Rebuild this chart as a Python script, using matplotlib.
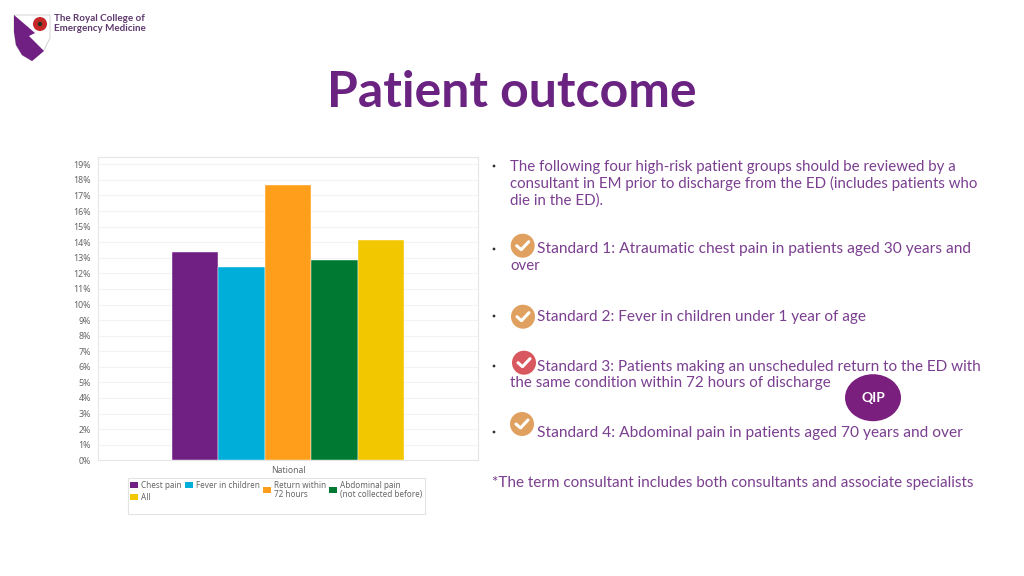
import matplotlib
matplotlib.use('Agg')
import matplotlib.pyplot as plt
from matplotlib.patches import Circle, Ellipse, Polygon, Rectangle

categories = ['Chest pain', 'Fever in children', 'Return within\n72 hours', 'Abdominal pain\n(not collected before)', 'All']
values = [13.39, 12.43, 17.67, 12.86, 14.14]
colors = ['#702082', '#00AEDA', '#FF9E1B', '#007A33', '#F2C700']
tick_values = list(range(0, 20))
tick_labels = ['%d%%' % t for t in tick_values]

title = 'Patient outcome'
purple = '#7B3F90'
body_font = 'Lato'

# text blocks: (x, y, size, text), sizes tuned per line as the original font is wider
body_lines = [
    (510, 166.5, 10.85, 'The following four high-risk patient groups should be reviewed by a'),
    (510, 183.5, 10.85, 'consultant in EM prior to discharge from the ED (includes patients who'),
    (510, 200.5, 10.85, 'die in the ED).'),
    (537, 249.5, 11.15, 'Standard 1: Atraumatic chest pain in patients aged 30 years and'),
    (510, 266.5, 10.85, 'over'),
    (537, 316.5, 11.1, 'Standard 2: Fever in children under 1 year of age'),
    (537, 366.5, 10.95, 'Standard 3: Patients making an unscheduled return to the ED with'),
    (510, 383.5, 10.9, 'the same condition within 72 hours of discharge'),
    (537, 432.5, 11.2, 'Standard 4: Abdominal pain in patients aged 70 years and over'),
    (492, 482.5, 10.95, '*The term consultant includes both consultants and associate specialists'),
]
bullets_y = [166, 249, 316, 366, 432]
checks = [(522.7, 245.7, '#E0A060'), (523, 316.7, '#E0A060'), (524, 362.7, '#D9575E'), (522, 424, '#E0A060')]

fig = plt.figure(figsize=(10.24, 5.76), dpi=100, facecolor='white')

# overlay in pixel coordinates for slide furniture
bg = fig.add_axes([0, 0, 1, 1])
bg.set_xlim(0, 1024)
bg.set_ylim(576, 0)
bg.axis('off')

# chart frame: 98..478 px across, 157..460 px down
ax = fig.add_axes([98 / 1024, 1 - 460.3 / 576, 380 / 1024, 303 / 576])
ax.set_xlim(-4.1, 4.1)
ax.set_ylim(0, 19.45)
for i, v in enumerate(values):
    ax.bar(i - 2, v, width=1.0, color=colors[i], zorder=3, edgecolor='white', linewidth=0.3)
ax.set_yticks(tick_values)
ax.set_yticklabels(tick_labels, fontsize=6.4, color='#666666', fontfamily='Noto Sans')
ax.set_xticks([0])
ax.set_xticklabels(['National'], fontsize=6.2, color='#666666', fontfamily='Noto Sans')
ax.tick_params(length=0)
ax.tick_params(axis='x', pad=4)
ax.tick_params(axis='y', pad=5)
ax.grid(axis='y', color='#F3F3F3', linewidth=0.8, zorder=0)
for s in ax.spines.values():
    s.set_color('#E6E6E6')
    s.set_linewidth(0.8)

# legend box
bg.add_patch(Rectangle((128, 478), 297, 36, fc='white', ec='#E3E3E3', lw=0.8))
legend_swatch = [(130, 482), (185, 482), (263, 487), (329, 487), (130, 494)]
legend_text = [(141, 485), (196, 485), (274, 490), (340, 490), (141, 497)]
for (x, y), (tx, ty), lab, c in zip(legend_swatch, legend_text, categories, colors):
    bg.add_patch(Rectangle((x, y), 8, 6, fc=c, ec='none'))
    bg.text(tx, ty, lab, fontsize=5.85, color='#666666', va='center', ha='left',
            family='Noto Sans', linespacing=1.05)

# logo
bg.add_patch(Polygon([(14, 15), (50, 15), (50, 38), (44, 50), (32, 61), (22, 55), (16, 45), (14, 32)],
                     fc='white', ec='#CCCCCC', lw=0.6))
bg.add_patch(Polygon([(14, 15), (35, 33), (29, 36), (44, 51), (32, 61), (22, 55), (16, 45), (14, 32)],
                     fc='#702082', ec='none'))
bg.add_patch(Circle((40, 24), 7, fc='#C62828', ec='none'))
bg.add_patch(Circle((40, 24), 2.2, fc='#22331E', ec='none'))
bg.text(54, 18.5, 'The Royal College of', fontsize=7.1, fontweight='bold', color='#5E3A6E',
        va='center', family=body_font)
bg.text(54, 28.5, 'Emergency Medicine', fontsize=7.1, fontweight='bold', color='#5E3A6E',
        va='center', family=body_font)

bg.text(512, 106.7, title, fontsize=36, fontweight='bold', color='#6A2381', ha='center', va='baseline',
        family=body_font)

for x, y, size, t in body_lines:
    bg.text(x, y, t, fontsize=size, color=purple, va='center', ha='left', family=body_font)
for y in bullets_y:
    bg.add_patch(Circle((494, y), 1.4, fc='#333333', ec='none'))

for x, y, c in checks:
    bg.add_patch(Circle((x, y), 12, fc=c, ec='none'))
    bg.plot([x - 6, x - 1.5, x + 6], [y, y + 4, y - 4], color='white', lw=2.2,
            solid_capstyle='round', solid_joinstyle='round')

bg.add_patch(Ellipse((873, 397.7), 56, 47, fc='#7A1F7E', ec='none', zorder=4))
bg.text(873, 397.7, 'QIP', fontsize=10, fontweight='bold', color='white', ha='center', va='center',
        family=body_font, zorder=5)

fig.savefig('out.png', dpi=100)
